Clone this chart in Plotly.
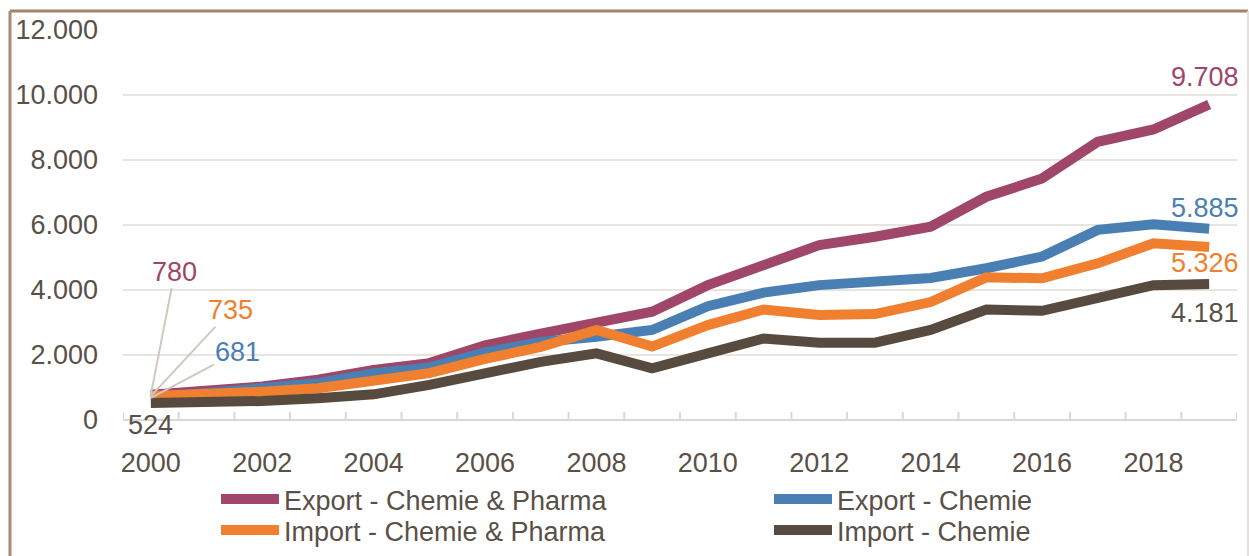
import plotly.graph_objects as go

# Yearly values (Mio. EUR)
years = list(range(2000, 2020))
export_chem_pharma = [780, 890, 1030, 1240, 1540, 1750, 2300, 2660, 3020, 3330,
                      4150, 4800, 5380, 5640, 5950, 6870, 7430, 8560, 8940, 9708]
export_chem = [681, 820, 930, 1130, 1440, 1620, 2080, 2400, 2560, 2770,
               3500, 3920, 4150, 4230, 4370, 4670, 5030, 5850, 6020, 5885]
import_chem_pharma = [735, 770, 870, 975, 1180, 1440, 1880, 2250, 2770, 2260,
                      2920, 3400, 3230, 3260, 3630, 4390, 4360, 4820, 5440, 5326]
import_chem = [524, 545, 585, 670, 790, 1080, 1470, 1790, 2050, 1590,
               2050, 2510, 2380, 2380, 2770, 3400, 3360, 3740, 4150, 4181]

series_names = ["Export - Chemie & Pharma", "Export - Chemie",
                "Import - Chemie & Pharma", "Import - Chemie"]
series_values = [export_chem_pharma, export_chem, import_chem_pharma, import_chem]
series_colors = ["#9f4669", "#4a7fb4", "#f08030", "#574b3f"]

x_tick_years = years[::2]
y_ticks = [0, 2000, 4000, 6000, 8000, 10000, 12000]

TEXT = "#595047"
GRID = "#e8e4df"
FONT = "Liberation Sans, Arial, sans-serif"
FS = 27


def fmt(v):
    return f"{v:,}".replace(",", ".")


W, H = 1249, 556
M_L, M_R, M_T, M_B = 123, 12, 30, 136
pw = W - M_L - M_R
ph = H - M_T - M_B
px = lambda p: (p - M_L) / pw
py = lambda p: (H - M_B - p) / ph

# legend slots: two columns, two rows
legend_ids = ["legend", "legend2", "legend3", "legend4"]
legend_pos = [(216, 475), (769, 475), (216, 506), (769, 506)]

fig = go.Figure()
for name, vals, col, lid in zip(series_names, series_values, series_colors, legend_ids):
    fig.add_trace(go.Scatter(
        x=years, y=vals, name=name, mode="lines",
        line=dict(color=col, width=10),
        legend=lid, hoverinfo="skip",
    ))

# Value labels at the last year
end_shift = [27, 21, -16, -29]
for vals, col, dy in zip(series_values, series_colors, end_shift):
    fig.add_annotation(x=years[-1], y=vals[-1], text=fmt(vals[-1]),
                       showarrow=False, yshift=dy, xshift=-4,
                       font=dict(size=FS, color=col if col != "#574b3f" else TEXT))

# Value labels at the first year with leader lines
start_offsets = [(24, -123), (87, -46), (80, -86)]
for vals, col, (ax, ay) in zip(series_values[:3], series_colors[:3], start_offsets):
    fig.add_annotation(x=years[0], y=vals[0], text=fmt(vals[0]),
                       showarrow=True, arrowhead=0, arrowwidth=2,
                       arrowcolor="#cfc8bf", ax=ax, ay=ay,
                       font=dict(size=FS, color=col))
fig.add_annotation(x=years[0], y=import_chem[0], text=fmt(import_chem[0]),
                   showarrow=False, yshift=-22, font=dict(size=FS, color=TEXT))

# Category boundary tick marks crossing the x axis
shapes = []
for yr in years + [years[-1] + 1]:
    shapes.append(dict(type="line", xref="x", yref="y", xsizemode="scaled",
                       ysizemode="pixel", yanchor=0, x0=yr - 0.5, x1=yr - 0.5,
                       y0=-8, y1=8, line=dict(color="#dcd7d0", width=2),
                       layer="below"))

# Outer frame
shapes += [
    dict(type="line", xref="paper", yref="paper", x0=px(10), x1=px(1248),
         y0=py(11), y1=py(11), line=dict(color="#a48468", width=3)),
    dict(type="line", xref="paper", yref="paper", x0=px(10), x1=px(10),
         y0=py(11), y1=py(H + 5), line=dict(color="#a88a70", width=3)),
    dict(type="line", xref="paper", yref="paper", x0=px(1248), x1=px(1248),
         y0=py(11), y1=py(H + 5), line=dict(color="#e4dfda", width=2)),
]

legend_layout = {}
for lid, (lx, ly) in zip(legend_ids, legend_pos):
    legend_layout[lid] = dict(x=px(lx), y=py(ly), xanchor="left", yanchor="top",
                              orientation="v", font=dict(size=FS, color=TEXT),
                              bgcolor="rgba(0,0,0,0)", itemwidth=58)

fig.update_layout(
    width=W, height=H,
    margin=dict(l=M_L, r=M_R, t=M_T, b=M_B, pad=0, autoexpand=False),
    paper_bgcolor="white", plot_bgcolor="white",
    separators=",.",
    font=dict(family=FONT, size=FS, color=TEXT),
    showlegend=True,
    shapes=shapes,
    xaxis=dict(range=[years[0] - 0.5, years[-1] + 0.5], tickmode="array",
               tickvals=x_tick_years, ticktext=[str(y) for y in x_tick_years],
               ticks="", showgrid=False, zeroline=False, showline=False,
               ticklabelstandoff=24, tickfont=dict(size=FS, color=TEXT)),
    yaxis=dict(range=[0, 12000], tickmode="array", tickvals=y_ticks,
               tickformat=",d", showgrid=True, gridcolor=GRID, gridwidth=2,
               zeroline=True, zerolinecolor="#dcd7d0", zerolinewidth=2,
               showline=False, ticks="", ticklabelstandoff=24,
               tickfont=dict(size=FS, color=TEXT)),
    **legend_layout,
)

fig.write_html("out.html", config={"displayModeBar": False})
